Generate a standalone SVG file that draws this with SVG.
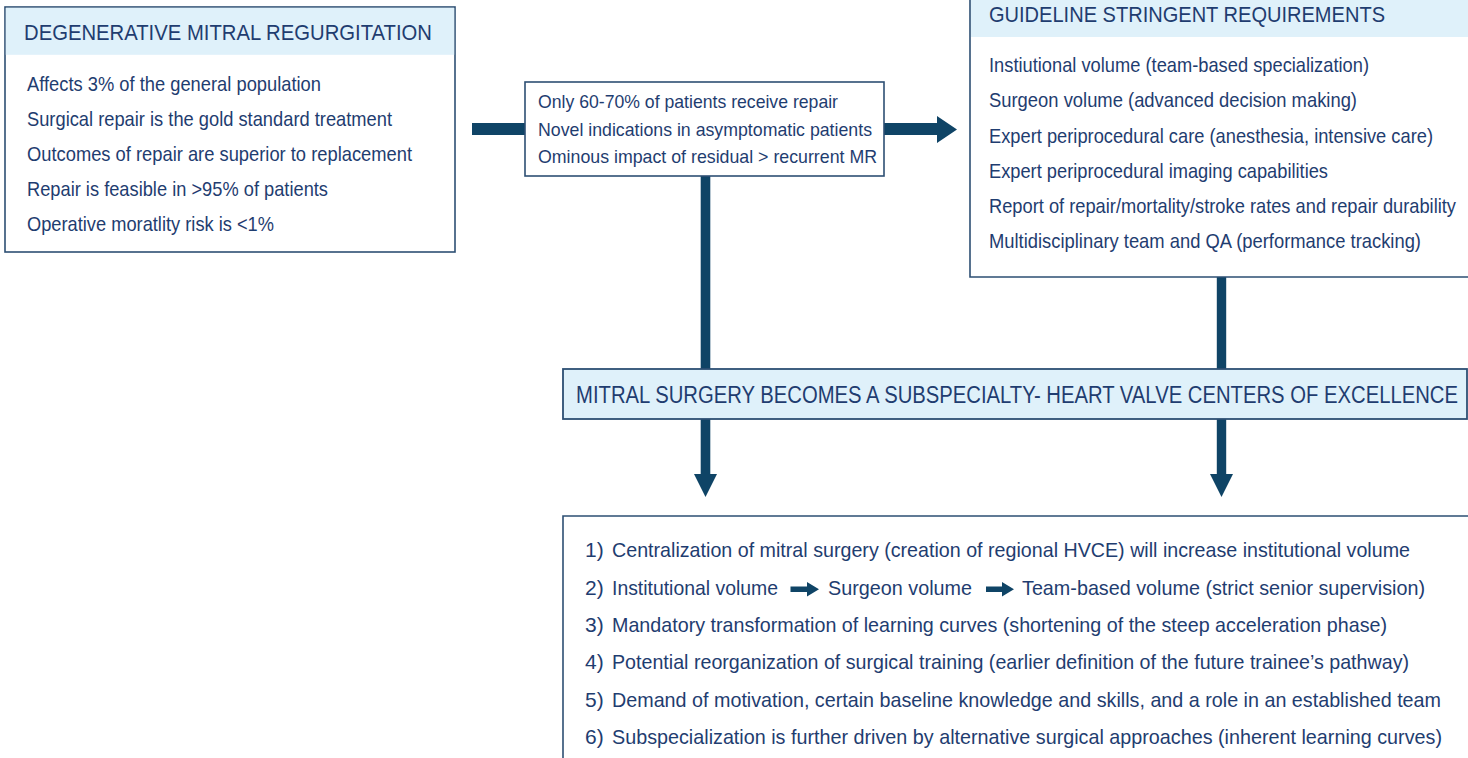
<svg xmlns="http://www.w3.org/2000/svg" width="1468" height="758" viewBox="0 0 1468 758">
<style>
  .box { fill: #ffffff; stroke: #2d4f73; stroke-width: 1.6; }
  .fillw { fill: #ffffff; }
  .edge { fill: none; stroke: #2d4f73; stroke-width: 1.6; }
  .hdr { fill: #dff1fa; }
  .band { fill: #dff1fa; stroke: #2d4f73; stroke-width: 1.8; }
  text { font-family: "Liberation Sans Narrow", "Liberation Sans", Arial, sans-serif; fill: #1f3d70; }
  .t22 { font-size: 22px; }
  .t21 { font-size: 21px; }
  .t18 { font-size: 18.5px; }
  .t23 { font-size: 23px; }
  .conn { fill: #0f4466; }
</style>

<g id="connectors">
  <rect class="conn" x="472" y="123" width="53" height="12"/>
  <polygon class="conn" points="884,123 937,123 937,116 957,129.5 937,143 937,135 884,135"/>
  <rect class="conn" x="700.7" y="176" width="9.6" height="193"/>
  <rect class="conn" x="1216.8" y="277" width="9.4" height="92"/>
  <polygon class="conn" points="700.7,419 710.3,419 710.3,474 717,474 705.5,497 694,474 700.7,474"/>
  <polygon class="conn" points="1216.8,419 1226.2,419 1226.2,474 1233,474 1221.5,497 1210,474 1216.8,474"/>
</g>

<g id="node-degenerative">
  <rect class="box" x="5" y="7" width="450" height="245"/>
  <rect class="hdr" x="5.8" y="7.8" width="448.4" height="47"/>
  <text class="t22" x="24" y="40" textLength="408" lengthAdjust="spacingAndGlyphs">DEGENERATIVE MITRAL REGURGITATION</text>
  <text class="t21" x="27" y="90.5" textLength="294" lengthAdjust="spacingAndGlyphs">Affects 3% of the general population</text>
  <text class="t21" x="27" y="125.5" textLength="365" lengthAdjust="spacingAndGlyphs">Surgical repair is the gold standard treatment</text>
  <text class="t21" x="27" y="160.5" textLength="385" lengthAdjust="spacingAndGlyphs">Outcomes of repair are superior to replacement</text>
  <text class="t21" x="27" y="196" textLength="301" lengthAdjust="spacingAndGlyphs">Repair is feasible in &gt;95% of patients</text>
  <text class="t21" x="27" y="231" textLength="247" lengthAdjust="spacingAndGlyphs">Operative moratlity risk is &lt;1%</text>
</g>

<g id="node-repair-gap">
  <rect class="box" x="525" y="82" width="359" height="94"/>
  <text class="t18" x="538" y="108" textLength="300" lengthAdjust="spacingAndGlyphs">Only 60-70% of patients receive repair</text>
  <text class="t18" x="538" y="136" textLength="334" lengthAdjust="spacingAndGlyphs">Novel indications in asymptomatic patients</text>
  <text class="t18" x="538" y="163" textLength="339" lengthAdjust="spacingAndGlyphs">Ominous impact of residual &gt; recurrent MR</text>
</g>

<g id="node-guideline">
  <rect class="fillw" x="970" y="0" width="498" height="277"/>
  <rect class="hdr" x="970.8" y="0" width="497.2" height="37"/>
  <path class="edge" d="M970,0 V277 H1468"/>
  <text class="t22" x="989" y="22" textLength="396" lengthAdjust="spacingAndGlyphs">GUIDELINE STRINGENT REQUIREMENTS</text>
  <text class="t21" x="989" y="72" textLength="380" lengthAdjust="spacingAndGlyphs">Instiutional volume (team-based specialization)</text>
  <text class="t21" x="989" y="107" textLength="368" lengthAdjust="spacingAndGlyphs">Surgeon volume (advanced decision making)</text>
  <text class="t21" x="989" y="143" textLength="444" lengthAdjust="spacingAndGlyphs">Expert periprocedural care (anesthesia, intensive care)</text>
  <text class="t21" x="989" y="178" textLength="339" lengthAdjust="spacingAndGlyphs">Expert periprocedural imaging capabilities</text>
  <text class="t21" x="989" y="213" textLength="467" lengthAdjust="spacingAndGlyphs">Report of repair/mortality/stroke rates and repair durability</text>
  <text class="t21" x="989" y="248" textLength="432" lengthAdjust="spacingAndGlyphs">Multidisciplinary team and QA (performance tracking)</text>
</g>

<g id="node-subspecialty">
  <rect class="band" x="563" y="369" width="904" height="50"/>
  <text class="t23" x="576" y="403" textLength="882" lengthAdjust="spacingAndGlyphs">MITRAL SURGERY BECOMES A SUBSPECIALTY- HEART VALVE CENTERS OF EXCELLENCE</text>
</g>

<g id="node-consequences">
  <rect class="fillw" x="563" y="516" width="905" height="242"/>
  <path class="edge" d="M563,758 V516 H1468"/>
  <text class="t21" x="585" y="557">1)</text>
  <text class="t21" x="612" y="557" textLength="798" lengthAdjust="spacingAndGlyphs">Centralization of mitral surgery (creation of regional HVCE) will increase institutional volume</text>
  <text class="t21" x="585" y="594.5">2)</text>
  <text class="t21" x="612" y="594.5" textLength="166" lengthAdjust="spacingAndGlyphs">Institutional volume</text>
  <polygon class="conn" points="790.5,586.5 807,586.5 807,582 819,589.3 807,596.5 807,592 790.5,592"/>
  <text class="t21" x="828" y="594.5" textLength="144" lengthAdjust="spacingAndGlyphs">Surgeon volume</text>
  <polygon class="conn" points="986,586.5 1002,586.5 1002,582 1014,589.3 1002,596.5 1002,592 986,592"/>
  <text class="t21" x="1022" y="594.5" textLength="403" lengthAdjust="spacingAndGlyphs">Team-based volume (strict senior supervision)</text>
  <text class="t21" x="585" y="632">3)</text>
  <text class="t21" x="612" y="632" textLength="775" lengthAdjust="spacingAndGlyphs">Mandatory transformation of learning curves (shortening of the steep acceleration phase)</text>
  <text class="t21" x="585" y="668.5">4)</text>
  <text class="t21" x="612" y="668.5" textLength="797" lengthAdjust="spacingAndGlyphs">Potential reorganization of surgical training (earlier definition of the future trainee’s pathway)</text>
  <text class="t21" x="585" y="706.5">5)</text>
  <text class="t21" x="612" y="706.5" textLength="829" lengthAdjust="spacingAndGlyphs">Demand of motivation, certain baseline knowledge and skills, and a role in an established team</text>
  <text class="t21" x="585" y="743.5">6)</text>
  <text class="t21" x="612" y="743.5" textLength="830" lengthAdjust="spacingAndGlyphs">Subspecialization is further driven by alternative surgical approaches (inherent learning curves)</text>
</g>
</svg>
